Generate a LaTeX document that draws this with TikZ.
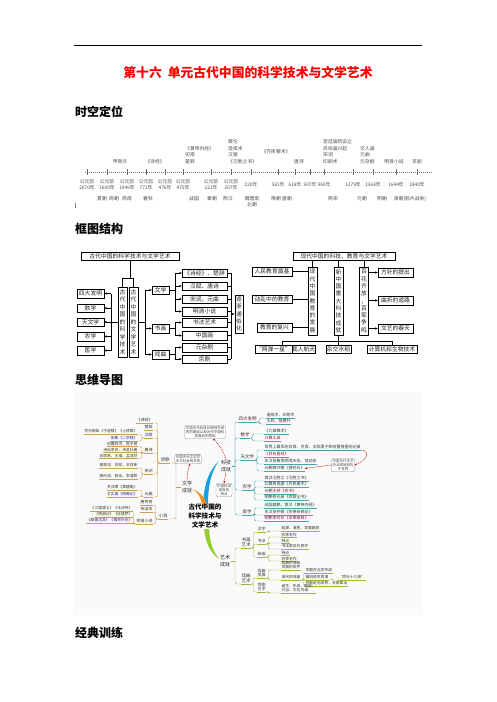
\documentclass[tikz,border=0pt]{standalone}
\usepackage{fontspec}
\setmainfont{Noto Sans CJK SC}
\usetikzlibrary{arrows.meta}
\definecolor{sciT}{RGB}{70,165,175}
\definecolor{litG}{RGB}{205,160,80}
\definecolor{artG}{RGB}{150,185,60}
\definecolor{brBlue}{RGB}{20,160,225}
\definecolor{brOr}{RGB}{240,145,30}
\definecolor{brGr}{RGB}{150,205,50}
\newcommand\mmR[5]{\node[mm,anchor=south west,#5] (#1) at (#2) {#3}; \draw[#4,line width=.45pt] (#1.south west) -- (#1.south east);}
\newcommand\mmL[5]{\node[mm,anchor=south east,#5] (#1) at (#2) {#3}; \draw[#4,line width=.45pt] (#1.south west) -- (#1.south east);}
\newcommand\lkR[3]{\draw[#1,line width=.45pt,rounded corners=1.2pt] (#2.south east) -- ++(2.5,0) |- (#3.south west);}
\newcommand\lkL[3]{\draw[#1,line width=.45pt,rounded corners=1.2pt] (#2.south west) -- ++(-2.5,0) |- (#3.south east);}
\begin{document}
\begin{tikzpicture}[x=1pt,y=-1pt,
  fb/.style={draw, line width=.45pt, inner sep=0pt, font=\fontsize{5.8}{6}\selectfont, minimum height=8.5pt, text=black!85},
  vb/.style={draw, line width=.45pt, inner sep=0pt, minimum width=9pt, align=center, font=\fontsize{5.8}{7.5}\selectfont, text=black!85},
  vbb/.style={vb, font=\fontsize{5.8}{7.3}\selectfont},
  ln/.style={line width=.45pt},
  ar/.style={line width=.45pt, -{Stealth[length=2.6pt,width=2.2pt]}},
  tl/.style={font=\fontsize{4.8}{6.6}\selectfont, text=black!70, inner sep=0pt, align=center},
  hd/.style={font=\fontsize{12}{12}\selectfont\bfseries, anchor=west, inner sep=0pt},
  mm/.style={font=\fontsize{3.8}{4.4}\selectfont, text=black!80, inner xsep=0.3pt, inner ysep=0.5pt, align=left},
  note/.style={draw=black!45, line width=.35pt, rounded corners=2pt, fill=white, font=\fontsize{3.5}{4.1}\selectfont, align=center, inner sep=1pt, text=black!75},
  rd/.style={draw=red!75!black, dash pattern=on 1pt off .8pt, line width=.5pt, -{Stealth[length=2.2pt,width=2pt]}},
  lv1/.style={font=\fontsize{4.5}{5.2}\selectfont},
  lv2/.style={font=\fontsize{4}{4.6}\selectfont},
  br/.style={font=\fontsize{5}{6.5}\selectfont, align=center, text=black!85, inner sep=.5pt}
]
\useasboundingbox (0,0) rectangle (496,702);
\fill[white] (0,0) rectangle (496,702);

% header
\draw[line width=.6pt] (74,45) -- (422,45);
\node[font=\fontsize{12.8}{13}\selectfont\bfseries, text=red, inner sep=0pt] (title) at (248,73) {第十六\hspace{6pt}单元古代中国的科学技术与文学艺术};
\node[hd] (h1) at (75,112) {时空定位};
\node[hd] (h2) at (75,229) {框图结构};
\node[hd] (h3) at (75,380) {思维导图};
\node[hd] (h4) at (75,633) {经典训练};

% ---------------- timeline
\draw[black!55, line width=.45pt, dash pattern=on .8pt off 1.2pt] (85,172) -- (432,172);
\foreach \x in {87,107,127,146,165,183,211,231,251,278,295,310,324,353,373,396,417}
  {\draw[black!60,line width=.4pt] (\x,169) -- (\x,175);}
\foreach \x/\b in {87/2070,107/1600,127/1046,146/771,165/476,183/475,211/221,231/207}
  {\node[tl] (bc\x) at (\x,184.5) {公元前\\{\b}年};}
\foreach \x/\b in {251/220,278/581,295/618,310/907,324/960,353/1279,373/1368,396/1644,417/1840}
  {\node[tl] (ad\x) at (\x,184.5) {{\b}年};}
\node[tl,anchor=south] (e1) at (120,164) {甲骨文};
\node[tl,anchor=south] (e2) at (155,164) {《诗经》};
\node[tl,anchor=south west,align=left] (e3) at (185,164) {《黄帝内经》\\司南\\楚辞};
\node[tl,anchor=south west,align=left] (e4) at (228,164) {蔡伦\\造纸术\\汉赋\\《氾胜之书》};
\node[tl,anchor=south] (e5) at (276,154) {《齐民要术》};
\node[tl,anchor=south] (e6) at (299,164) {唐诗};
\node[tl,anchor=south west,align=left] (e7) at (323,164) {宫廷画院设立\\风俗画兴起\\宋词\\印刷术};
\node[tl,anchor=south west,align=left] (e8) at (360,164) {文人画\\元曲\\元杂剧};
\node[tl,anchor=south] (e9) at (394,164) {明清小说};
\node[tl,anchor=south] (e10) at (417,164) {京剧};
\foreach \x/\t in {102/夏朝,114/商朝,127/西周,148/春秋,194/战国,212/秦朝,228/西汉,276/隋朝,287/唐朝,333/两宋,362/元朝,382/明朝,410/清朝(鸦片战争)}
  {\node[tl] (dy\x) at (\x,199) {\t};}
\node[tl,anchor=north] (dyw) at (252,196) {魏晋南\\北朝};
\draw[black!50,line width=.4pt] (75,203) -- (75,208);

% ---------------- left framework
\node[fb, minimum width=98pt] (ltop) at (130,256) {古代中国的科学技术与文学艺术};
\node[vb, minimum height=70pt] (lsci) at (122.5,322) {古\\代\\中\\国\\的\\科\\学\\技\\术};
\node[vb, minimum height=70pt] (llit) at (133.5,322) {古\\代\\中\\国\\的\\文\\学\\艺\\术};
\draw[ln] (ltop.south) -- (130,278);
\draw[ln] (lsci.north) -- ++(0,-9) -| (llit.north);
\node[fb, minimum width=27pt] (b1) at (90.5,293.5) {四大发明};
\node[fb, minimum width=27pt] (b2) at (90.5,308) {数学};
\node[fb, minimum width=27pt] (b3) at (90.5,322) {天文学};
\node[fb, minimum width=27pt] (b4) at (90.5,336.5) {农学};
\node[fb, minimum width=27pt] (b5) at (90.5,350.5) {医学};
\draw[ln] (lsci.west) -- (111,322);
\draw[ln] (111,293.5) -- (111,350.5);
\foreach \n in {b1,b2,b3,b4,b5} {\draw[ar] (\n.east -| 111,0) -- (\n.east);}
\node[fb, minimum width=17pt] (lw) at (160.5,290) {文学};
\node[fb, minimum width=17pt] (ls) at (160.5,328.5) {书画};
\node[fb, minimum width=17pt] (lq) at (160.5,354.5) {戏曲};
\draw[ln] (llit.east) -- (145,322);
\draw[ln] (145,290) -- (145,354.5);
\foreach \n in {lw,ls,lq} {\draw[ar] (\n.west -| 145,0) -- (\n.west);}
\node[fb, minimum width=45pt] (r1) at (204.5,273) {《诗经》、楚辞};
\node[fb, minimum width=45pt] (r2) at (204.5,286) {汉赋、唐诗};
\node[fb, minimum width=45pt] (r3) at (204.5,299) {宋词、元曲};
\node[fb, minimum width=45pt] (r4) at (204.5,311.5) {明清小说};
\node[fb, minimum width=45pt] (r5) at (204.5,322.5) {书法艺术};
\node[fb, minimum width=45pt] (r6) at (204.5,335.5) {中国画};
\node[fb, minimum width=45pt] (r7) at (204.5,347.5) {元杂剧};
\node[fb, minimum width=45pt] (r8) at (204.5,359) {京剧};
\draw[ln] (lw.east) -- (175,290);
\draw[ln] (175,273) -- (175,311.5);
\draw[ln] (ls.east) -- (175,328.5);
\draw[ln] (175,322.5) -- (175,335.5);
\draw[ln] (lq.east) -- (175,354.5);
\draw[ln] (175,347.5) -- (175,359);
\foreach \n in {r1,r2,r3,r4,r5,r6,r7,r8} {
  \draw[ar] (\n.west -| 175,0) -- (\n.west);
  \draw[ln] (\n.east) -- (\n.east -| 231,0);
}
\draw[ln] (231,273) -- (231,359);
\node[vb, minimum width=8.5pt, minimum height=38pt, font=\fontsize{5.8}{7.4}\selectfont] (tong) at (239,314) {逐\\渐\\通\\俗\\化};
\draw[ar] (231,314) -- (tong.west);

% ---------------- right framework
\node[fb, minimum width=102pt] (rtop) at (344,256) {现代中国的科技、教育与文学艺术};
\node[vbb, minimum height=68pt] (edu) at (312.5,301) {现\\代\\中\\国\\教\\育\\的\\发\\展};
\node[vbb, minimum height=68pt] (tech) at (338.5,301) {新\\中\\国\\重\\大\\科\\技\\成\\就};
\node[vbb, minimum height=68pt] (art) at (364,301) {百\\花\\齐\\放\\，\\百\\家\\争\\鸣};
\foreach \n in {edu,tech,art} {\draw[ln] (\n.north) -- (\n.north |- rtop.south);}
\node[fb, minimum width=40pt] (q1) at (272,271.5) {人民教育奠基};
\node[fb, minimum width=40pt] (q2) at (272,299) {动乱中的教育};
\node[fb, minimum width=35pt] (q3) at (274.5,327.5) {教育的复兴};
\foreach \n in {q1,q2,q3} {\draw[ln] (\n.east) -- (\n.east -| edu.west);}
\node[fb, minimum width=35pt] (f1) at (395.5,272.5) {方针的提出};
\node[fb, minimum width=35pt] (f2) at (395.5,300.5) {曲折的道路};
\node[fb, minimum width=35pt] (f3) at (395.5,328.5) {文艺的春天};
\foreach \n in {f1,f2,f3} {\draw[ar] (\n.west -| art.east) -- (\n.west);}
\node[fb, minimum width=37pt] (g1) at (273.5,349) {“两弹一星”};
\node[fb, minimum width=23pt] (g2) at (303.5,349) {载人航天};
\node[fb, minimum width=25pt] (g3) at (338.5,349) {杂交水稻};
\node[fb, minimum width=50pt] (g4) at (392,349) {计算机和生物技术};
\draw[ln] (tech.south) -- (338.5,341);
\draw[ln] (282,341) -- (392,341);
\draw[ln] (282,341) -- (282,344.75);
\draw[ln] (338.5,341) -- (g3.north);
\draw[ln] (392,341) -- (g4.north);

% ---------------- mind map
\fill[black!2] (73,392) rectangle (423,615);
\fill[brBlue] (203,504) .. controls (204,484) and (209,470) .. (219,461) .. controls (211,472) and (208,486) .. (208,504) -- cycle;
\fill[brOr] (202,505) .. controls (201,497) and (198,492) .. (192,489) .. controls (199,491) and (205,497) .. (207,505) -- cycle;
\fill[brGr] (204,529) .. controls (206,545) and (211,553) .. (219,559) .. controls (213,551) and (210,543) .. (209,529) -- cycle;
\node[font=\fontsize{6.6}{9.4}\selectfont\bfseries, align=center, inner sep=0pt] (ctr) at (205,516) {古代中国的\\科学技术与\\文学艺术};
\node[br] (kj) at (226,466) {科技\\成就};
\node[br] (wx) at (187,487) {文学\\成就};
\node[br] (ys) at (225,561) {艺术\\成就};

% notes
\node[note] (N1) at (205,432) {中国古代科技长期领先世\\界的原因以及近代中国科\\技落后的原因};
\node[note] (N2) at (188,459) {中国古代文学艺\\术与社会的关系};
\node[note] (N3) at (224,490) {中国科技\\成就的\\特点};
\node[note] (N4) at (343,465) {中国古代天文\\历法成就领先\\于世界};
\draw[rd] (kj.north) to[bend right=15] ([xshift=8pt]N1.south);
\draw[rd] (wx.north) to[bend left=10] ([xshift=2pt]N2.south);
\draw[rd] (kj.south) -- (N3.north);

% science tree
\draw[sciT,line width=.5pt] (kj.east) -- (235,466);
\mmR{s1}{238,422}{四大发明}{sciT}{lv1}
\mmR{s2}{240,438}{数学}{sciT}{lv1}
\mmR{s3}{240,460}{天文学}{sciT}{lv1}
\mmR{s4}{242,490}{农学}{sciT}{lv1}
\mmR{s5}{242,515}{医学}{sciT}{lv1}
\foreach \n in {s1,s2,s3,s4,s5} {\draw[sciT,line width=.45pt,rounded corners=1.5pt] (235,466) |- (\n.south west);}
\mmR{c11}{266,418}{造纸术、印刷术}{sciT}{lv2}
\mmR{c12}{266,424}{火药、指南针}{sciT}{lv2}
\mmR{c21}{264,434}{《九章算术》}{sciT}{lv2}
\mmR{c22}{264,441}{计算工具}{sciT}{lv2}
\mmR{c31}{264,450}{世界上最早的日食、月食、太阳黑子和哈雷彗星的记录}{sciT}{lv2}
\mmR{c32}{264,457}{《甘石星经》}{sciT}{lv2}
\mmR{c33}{264,464}{东汉张衡发明浑天仪、地动仪}{sciT}{lv2}
\mmR{c34}{264,471}{元朝郭守敬《授时历》}{sciT}{lv2}
\mmR{c41}{264,481}{西汉氾胜之《氾胜之书》}{sciT}{lv2}
\mmR{c42}{264,487}{北魏贾思勰《齐民要术》}{sciT}{lv2}
\mmR{c43}{264,494}{元朝王祯《农书》}{sciT}{lv2}
\mmR{c44}{264,500}{明朝徐光启《农政全书》}{sciT}{lv2}
\mmR{c51}{264,508}{战国扁鹊，西汉《黄帝内经》}{sciT}{lv2}
\mmR{c52}{264,515}{东汉张仲景《伤寒杂病论》}{sciT}{lv2}
\mmR{c53}{264,521}{明朝李时珍《本草纲目》}{sciT}{lv2}
\lkR{sciT}{s1}{c11} \lkR{sciT}{s1}{c12}
\lkR{sciT}{s2}{c21} \lkR{sciT}{s2}{c22}
\lkR{sciT}{s3}{c31} \lkR{sciT}{s3}{c32} \lkR{sciT}{s3}{c33} \lkR{sciT}{s3}{c34}
\lkR{sciT}{s4}{c41} \lkR{sciT}{s4}{c42} \lkR{sciT}{s4}{c43} \lkR{sciT}{s4}{c44}
\lkR{sciT}{s5}{c51} \lkR{sciT}{s5}{c52} \lkR{sciT}{s5}{c53}
\draw[rd] (c31.south east) .. controls (370,451) and (369,459) .. (N4.east);
\draw[rd] (N4.west) -- (c34.east);

% literature tree
\draw[litG,line width=.5pt] (wx.west) -- (176,487);
\mmL{L1}{170,463}{诗歌}{litG}{lv1}
\mmL{L2}{168,519}{小说}{litG}{lv1}
\draw[litG,line width=.45pt,rounded corners=1.5pt] (176,487) |- (L1.south east);
\draw[litG,line width=.45pt,rounded corners=1.5pt] (176,487) |- (L2.south east);
\mmL{l11}{153,423}{《诗经》}{litG}{lv2}
\mmL{l12}{153,430}{楚辞}{litG}{lv2}
\mmL{l13}{153,438}{汉赋}{litG}{lv2}
\mmL{l14}{153,453}{唐诗}{litG}{lv2}
\mmL{l15}{153,474}{宋词}{litG}{lv2}
\mmL{l16}{153,497}{元曲}{litG}{lv2}
\lkL{litG}{L1}{l11} \lkL{litG}{L1}{l12} \lkL{litG}{L1}{l13}
\lkL{litG}{L1}{l14} \lkL{litG}{L1}{l15} \lkL{litG}{L1}{l16}
\mmL{l131}{138,434}{司马相如《子虚赋》《上林赋》}{litG}{}
\mmL{l132}{138,441}{张衡《二京赋》}{litG}{}
\mmL{l141}{138,446.5}{初唐四杰、陈子昂}{litG}{}
\mmL{l142}{138,452.5}{诗仙李白、诗圣杜甫}{litG}{}
\mmL{l143}{138,458.5}{白居易、王维、孟浩然}{litG}{}
\mmL{l151}{138,468}{豪放派：苏轼、辛弃疾}{litG}{}
\mmL{l152}{138,479}{婉约派：柳永、李清照}{litG}{}
\mmL{l161}{138,490}{关汉卿《窦娥冤》}{litG}{}
\mmL{l162}{138,497}{王实甫《西厢记》}{litG}{}
\lkL{litG}{l13}{l131} \lkL{litG}{l13}{l132}
\lkL{litG}{l14}{l141} \lkL{litG}{l14}{l142} \lkL{litG}{l14}{l143}
\lkL{litG}{l15}{l151} \lkL{litG}{l15}{l152}
\lkL{litG}{l16}{l161} \lkL{litG}{l16}{l162}
\mmL{l21}{153,505}{唐传奇}{litG}{lv2}
\mmL{l22}{153,512}{宋话本}{litG}{lv2}
\mmL{l23}{153,524}{明清小说}{litG}{lv2}
\lkL{litG}{L2}{l21} \lkL{litG}{L2}{l22} \lkL{litG}{L2}{l23}
\mmL{l231}{133,511}{《三国演义》《水浒传》}{litG}{}
\mmL{l232}{133,517}{《西游记》《红楼梦》}{litG}{}
\mmL{l233}{133,523}{《聊斋志异》《儒林外史》}{litG}{}
\lkL{litG}{l23}{l231} \lkL{litG}{l23}{l232} \lkL{litG}{l23}{l233}

% art tree
\draw[artG,line width=.5pt] (ys.east) -- (235,561);
\mmR{a1}{241,548}{书画\\艺术}{artG}{lv1,align=center}
\mmR{a2}{241,584}{戏曲\\艺术}{artG}{lv1,align=center}
\draw[artG,line width=.45pt,rounded corners=1.5pt] (235,561) |- (a1.south west);
\draw[artG,line width=.45pt,rounded corners=1.5pt] (235,561) |- (a2.south west);
\mmR{a11}{257,532}{汉字}{artG}{lv2}
\mmR{a12}{257,544}{书法}{artG}{lv2}
\mmR{a13}{257,557}{绘画}{artG}{lv2}
\lkR{artG}{a1}{a11} \lkR{artG}{a1}{a12} \lkR{artG}{a1}{a13}
\mmR{a111}{281,531}{起源、演变、发展趋势}{artG}{}
\mmR{a121}{281,537}{名家名作}{artG}{}
\mmR{a122}{281,543}{特点}{artG}{}
\mmR{a123}{281,549}{书法家及代表作}{artG}{}
\mmR{a131}{281,555}{特点}{artG}{}
\mmR{a132}{281,561}{名家名作}{artG}{}
\lkR{artG}{a11}{a111}
\lkR{artG}{a12}{a121} \lkR{artG}{a12}{a122} \lkR{artG}{a12}{a123}
\lkR{artG}{a13}{a131} \lkR{artG}{a13}{a132}
\mmR{a21}{257,578}{戏曲\\发展}{artG}{lv2}
\mmR{a22}{257,592}{京剧\\艺术}{artG}{lv2}
\lkR{artG}{a2}{a21} \lkR{artG}{a2}{a22}
\mmR{a211}{281,570}{戏曲形成和\\发展的条件}{artG}{}
\mmR{a212}{281,580}{清代的戏曲}{artG}{}
\lkR{artG}{a21}{a211} \lkR{artG}{a21}{a212}
\mmR{a2121}{305,573}{京剧在北京形成}{artG}{}
\mmR{a2122}{305,580}{徽班进京表演}{artG}{}
\mmR{a2123}{305,586}{京剧走向成熟，名角辈出}{artG}{}
\lkR{artG}{a212}{a2121} \lkR{artG}{a212}{a2122} \lkR{artG}{a212}{a2123}
\mmR{a2124}{338,580}{“同光十三绝”}{artG}{}
\lkR{artG}{a2122}{a2124}
\mmR{a221}{281,593}{诞生、形成、剧目、\\行当、文化内涵}{artG}{}
\lkR{artG}{a22}{a221}
\end{tikzpicture}
\end{document}
